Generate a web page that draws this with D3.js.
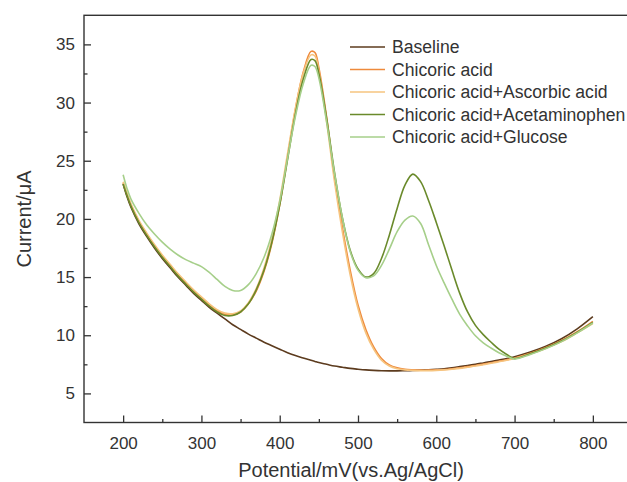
<!DOCTYPE html>
<html lang="en">
<head>
    <meta charset="UTF-8">
    <title>Chicoric acid DPV</title>
    <script src="https://d3js.org/d3.v7.min.js"></script>
    <style>
        body { margin: 0; background: #fff; }
        text { font-family: "Liberation Sans", Arial, sans-serif; fill: #333; }
    </style>
</head>
<body>
<svg width="627" height="482"></svg>
<script>
    // potential (mV vs Ag/AgCl), shared by every series
    var potential = [200,205,210,220,230,240,250,260,270,280,290,300,310,320,330,340,350,360,370,380,390,400,410,420,430,440,445,
        450,460,470,480,490,500,510,520,530,540,550,560,570,580,590,600,610,620,630,640,650,660,670,680,690,700,720,740,760,780,800];

    // current (uA)
    var baseline = [23.0,21.9,21.0,19.6,18.5,17.5,16.6,15.8,15.0,14.3,13.6,13.0,12.4,11.9,11.4,10.9,10.5,10.1,9.75,9.4,9.1,8.8,8.5,8.25,8.05,7.85,7.75,
        7.65,7.5,7.35,7.25,7.15,7.08,7.02,6.98,6.95,6.94,6.94,6.95,6.97,7.0,7.03,7.07,7.12,7.2,7.3,7.4,7.5,7.62,7.74,7.87,8.0,8.15,8.55,9.05,9.7,10.55,11.6];
    var chicoric = [23.1,22.1,21.2,19.8,18.7,17.7,16.8,16.0,15.2,14.5,13.8,13.2,12.6,12.1,11.8,11.75,12.0,12.7,13.8,15.5,17.9,21.2,25.3,29.4,32.6,34.4,34.3,
        33.0,28.7,23.6,19.3,15.6,12.6,10.5,9.0,8.0,7.45,7.2,7.08,7.03,7.0,7.0,7.02,7.06,7.12,7.2,7.3,7.4,7.52,7.64,7.77,7.9,8.05,8.45,8.95,9.55,10.3,11.2];
    var ascorbic = [23.2,22.2,21.3,19.9,18.8,17.8,16.9,16.1,15.3,14.6,13.9,13.3,12.7,12.2,11.9,11.85,12.1,12.8,14.0,15.8,18.3,21.6,25.6,29.5,32.5,34.1,34.0,
        32.7,28.3,23.2,18.9,15.2,12.3,10.2,8.8,7.85,7.35,7.12,7.02,6.98,6.96,6.96,6.98,7.02,7.08,7.15,7.25,7.35,7.47,7.59,7.72,7.85,8.0,8.38,8.87,9.45,10.2,11.0];
    var acetaminophen = [23.0,22.0,21.1,19.7,18.6,17.6,16.7,15.9,15.1,14.4,13.7,13.1,12.5,12.0,11.7,11.7,12.0,12.7,13.9,15.6,18.0,21.2,25.1,29.0,32.0,33.7,33.6,
        32.5,28.6,24.0,20.1,17.3,15.7,15.0,15.3,16.6,18.6,20.9,22.9,23.85,23.2,21.6,19.7,17.7,15.6,13.6,12.0,10.85,10.05,9.4,8.8,8.35,8.0,8.4,8.9,9.5,10.25,11.1];
    var glucose = [23.8,22.6,21.7,20.5,19.5,18.7,18.0,17.4,16.9,16.5,16.2,15.9,15.4,14.8,14.2,13.85,13.85,14.35,15.3,16.7,18.7,21.5,25.2,28.8,31.6,33.2,33.1,
        32.1,28.3,23.9,20.1,17.2,15.6,14.95,15.1,16.0,17.4,18.9,19.9,20.25,19.6,17.8,16.0,14.5,13.1,11.8,10.8,9.95,9.35,8.9,8.5,8.2,7.95,8.35,8.85,9.45,10.2,11.05];

    var seriesNames = ["Baseline", "Chicoric acid", "Chicoric acid+Ascorbic acid", "Chicoric acid+Acetaminophen", "Chicoric acid+Glucose"];
    var seriesValues = [baseline, chicoric, ascorbic, acetaminophen, glucose];
    var colors = ["#5c3b1e", "#ee8a3c", "#f6c47f", "#6a8a2b", "#a6cf8a"];

    var xMajor = [200, 300, 400, 500, 600, 700, 800];
    var xMinor = [250, 350, 450, 550, 650, 750];
    var yMajor = [5, 10, 15, 20, 25, 30, 35];
    var yMinor = [7.5, 12.5, 17.5, 22.5, 27.5, 32.5];

    var svg = d3.select("svg");
    // plot box (right edge falls just outside the picture)
    var plotLeft = 84, plotRight = 632, plotTop = 15.3, plotBottom = 422.5;

    var x = d3.scaleLinear().domain([150, 850]).range([plotLeft, plotRight]);
    var y = d3.scaleLinear().domain([2.5, 37.5]).range([plotBottom, plotTop]);

    // curves
    var line = d3.line()
        .x(function (d) { return x(d[0]); })
        .y(function (d) { return y(d[1]); })
        .curve(d3.curveCatmullRom.alpha(0.5));

    svg.append("g")
        .selectAll("path")
        .data(seriesValues)
        .enter().append("path")
        .attr("fill", "none")
        .attr("stroke", function (d, i) { return colors[i]; })
        .attr("stroke-width", 1.6)
        .attr("d", function (vals) {
            return line(potential.map(function (p, j) { return [p, vals[j]]; }));
        });

    // axes (ticks point inward)
    svg.append("g")
        .attr("transform", "translate(0," + plotBottom + ")")
        .call(d3.axisBottom(x).tickValues(xMajor).tickSize(-7).tickPadding(14));
    svg.append("g")
        .attr("transform", "translate(0," + plotBottom + ")")
        .call(d3.axisBottom(x).tickValues(xMinor).tickSize(-3.5).tickFormat(""));

    svg.append("g")
        .attr("transform", "translate(" + plotLeft + ",0)")
        .call(d3.axisLeft(y).tickValues(yMajor).tickSize(-7).tickPadding(9));
    svg.append("g")
        .attr("transform", "translate(" + plotLeft + ",0)")
        .call(d3.axisLeft(y).tickValues(yMinor).tickSize(-3.5).tickFormat(""));

    svg.selectAll(".domain").remove();
    svg.selectAll(".tick line").attr("stroke", "#333").attr("stroke-width", 1.3);
    svg.selectAll(".tick text").attr("font-size", 17).attr("fill", "#333")
        .style("font-family", "'Liberation Sans', Arial, sans-serif");

    svg.append("rect")
        .attr("x", plotLeft)
        .attr("y", plotTop)
        .attr("width", plotRight - plotLeft)
        .attr("height", plotBottom - plotTop)
        .attr("fill", "none")
        .attr("stroke", "#333")
        .attr("stroke-width", 1.4);

    // axis titles
    svg.append("text")
        .attr("x", 351)
        .attr("y", 477)
        .attr("text-anchor", "middle")
        .attr("font-size", 20)
        .text("Potential/mV(vs.Ag/AgCl)");

    svg.append("text")
        .attr("transform", "translate(31,219) rotate(-90)")
        .attr("text-anchor", "middle")
        .attr("font-size", 20)
        .text("Current/\u03bcA");

    // legend
    var legend = svg.append("g")
        .selectAll("g")
        .data(seriesNames)
        .enter().append("g")
        .attr("transform", function (d, i) { return "translate(0," + (47 + i * 22.5) + ")"; });

    legend.append("line")
        .attr("x1", 350)
        .attr("x2", 385)
        .attr("stroke", function (d, i) { return colors[i]; })
        .attr("stroke-width", 1.6);

    legend.append("text")
        .attr("x", 392)
        .attr("dy", "0.35em")
        .attr("font-size", 17.6)
        .text(function (d) { return d; });
</script>
</body>
</html>
